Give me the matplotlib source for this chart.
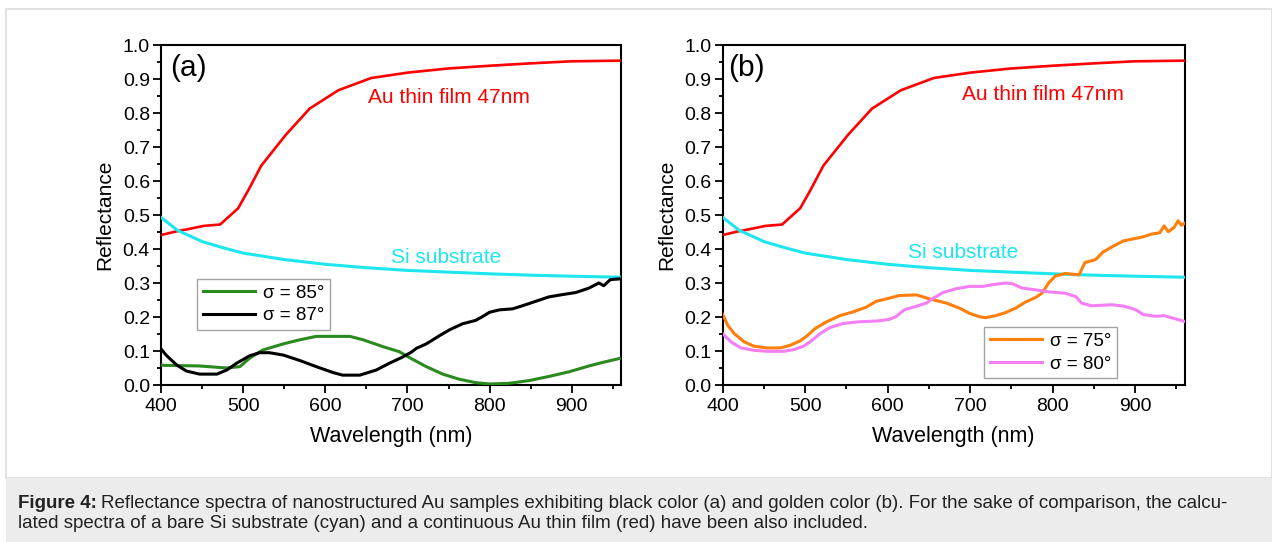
import matplotlib
matplotlib.use("Agg")
import matplotlib.pyplot as plt
from matplotlib.patches import Rectangle
from matplotlib.ticker import MultipleLocator, FormatStrFormatter

plt.rcParams['font.family'] = ['Liberation Sans', 'DejaVu Sans']

# ---------------- data ----------------
au_x = [400, 417, 432, 452, 472, 494, 507, 522, 552, 581, 616, 656, 701, 750, 800, 850, 899, 960]
au_y = [0.441, 0.451, 0.458, 0.468, 0.472, 0.520, 0.576, 0.645, 0.736, 0.813, 0.867, 0.903,
        0.919, 0.931, 0.939, 0.946, 0.952, 0.954]

si_x = [400, 420, 450, 475, 500, 550, 600, 650, 700, 750, 800, 850, 900, 960]
si_y = [0.493, 0.455, 0.422, 0.404, 0.388, 0.369, 0.355, 0.345, 0.337, 0.332, 0.327, 0.323,
        0.320, 0.317]

g85_x = [400, 447, 480, 496, 508, 524, 549, 569, 589, 630, 646, 670, 690, 706, 723, 743,
         763, 783, 800, 824, 848, 872, 897, 921, 937, 958]
g85_y = [0.058, 0.056, 0.050, 0.054, 0.079, 0.103, 0.121, 0.133, 0.143, 0.143, 0.133, 0.113,
         0.098, 0.076, 0.054, 0.032, 0.017, 0.007, 0.003, 0.005, 0.013, 0.025, 0.039, 0.056,
         0.066, 0.078]

k87_x = [400, 407, 419, 431, 447, 468, 480, 492, 508, 520, 532, 549, 569, 589, 609, 621,
         642, 662, 678, 694, 705, 711, 723, 739, 751, 767, 783, 792, 800, 812, 828, 840,
         856, 872, 889, 905, 921, 933, 939, 947, 958]
k87_y = [0.106, 0.086, 0.059, 0.041, 0.032, 0.032, 0.044, 0.064, 0.086, 0.095, 0.095, 0.088,
         0.072, 0.054, 0.037, 0.029, 0.029, 0.044, 0.064, 0.082, 0.097, 0.108, 0.121, 0.145,
         0.162, 0.180, 0.190, 0.202, 0.214, 0.221, 0.224, 0.233, 0.246, 0.259, 0.266, 0.272,
         0.285, 0.300, 0.292, 0.310, 0.312]

o75_x = [400, 406, 414, 426, 438, 454, 470, 482, 494, 502, 512, 526, 542, 558, 574, 586,
         598, 614, 635, 651, 671, 687, 699, 711, 719, 731, 743, 755, 767, 779, 787, 795,
         803, 815, 832, 839, 852, 861, 874, 886, 900, 910, 920, 930, 935, 940, 947, 952,
         956, 960]
o75_y = [0.208, 0.176, 0.151, 0.127, 0.114, 0.109, 0.109, 0.117, 0.130, 0.144, 0.166, 0.186,
         0.204, 0.215, 0.229, 0.246, 0.253, 0.263, 0.265, 0.253, 0.241, 0.226, 0.211, 0.201,
         0.198, 0.204, 0.213, 0.226, 0.244, 0.257, 0.270, 0.300, 0.320, 0.328, 0.324, 0.360,
         0.369, 0.391, 0.409, 0.424, 0.431, 0.436, 0.444, 0.448, 0.468, 0.451, 0.463, 0.483,
         0.470, 0.476]

p80_x = [400, 410, 422, 438, 454, 474, 486, 498, 506, 518, 530, 546, 566, 586, 602, 610,
         620, 634, 647, 655, 667, 683, 699, 715, 727, 743, 751, 763, 779, 795, 815, 828,
         835, 847, 872, 886, 900, 910, 925, 935, 945, 960]
p80_y = [0.151, 0.127, 0.109, 0.102, 0.099, 0.099, 0.104, 0.114, 0.127, 0.151, 0.169, 0.181,
         0.186, 0.188, 0.193, 0.201, 0.221, 0.231, 0.241, 0.255, 0.272, 0.283, 0.290, 0.290,
         0.295, 0.300, 0.298, 0.285, 0.280, 0.274, 0.270, 0.260, 0.241, 0.233, 0.236, 0.232,
         0.222, 0.207, 0.202, 0.204, 0.197, 0.187]

caption_bold = "Figure 4:"
caption_line1 = ("Reflectance spectra of nanostructured Au samples exhibiting black color (a) "
                 "and golden color (b). For the sake of comparison, the calcu-")
caption_line2 = ("lated spectra of a bare Si substrate (cyan) and a continuous Au thin film "
                 "(red) have been also included.")

# ---------------- figure ----------------
W, H = 1272, 542
fig = plt.figure(figsize=(W / 100, H / 100), dpi=100)
fig.patch.set_facecolor('white')

def px(x0, y0, w, h):
    return [x0 / W, 1 - (y0 + h) / H, w / W, h / H]

# outer border and caption box
fig.patches.append(Rectangle((6 / W, 1 - 478 / H), (W - 6) / W, (478 - 9) / H,
                             transform=fig.transFigure, facecolor='white',
                             edgecolor='#dcdcdc', linewidth=1.2, zorder=-2))
fig.patches.append(Rectangle((6 / W, 0), (W - 6) / W, (H - 478) / H,
                             transform=fig.transFigure, facecolor='#ececec',
                             edgecolor='none', zorder=-2))

RED = '#ff0000'
CYAN = '#1ee6ee'
GREEN = '#2a8a1e'
BLACK = '#000000'
ORANGE = '#ff7f0a'
PINK = '#f47ff4'

ax_a = fig.add_axes(px(161, 45, 460, 340))
ax_b = fig.add_axes(px(722.7, 45, 462, 340))

for ax in (ax_a, ax_b):
    ax.set_zorder(2)
    ax.set_xlim(400, 960)
    ax.set_ylim(0, 1.0)
    ax.xaxis.set_major_locator(MultipleLocator(100))
    ax.xaxis.set_minor_locator(MultipleLocator(50))
    ax.yaxis.set_major_locator(MultipleLocator(0.1))
    ax.yaxis.set_minor_locator(MultipleLocator(0.05))
    ax.yaxis.set_major_formatter(FormatStrFormatter('%.1f'))
    ax.tick_params(which='both', direction='out', top=False, right=False,
                   width=1.3, labelsize=14, colors='black')
    ax.tick_params(which='major', length=5.5)
    ax.tick_params(which='minor', length=3)
    ax.tick_params(axis='x', pad=4)
    ax.tick_params(axis='y', pad=2.5)
    for s in ax.spines.values():
        s.set_linewidth(1.5)
    ax.set_xlabel('Wavelength (nm)', fontsize=15.5, labelpad=8)
    ax.set_ylabel('Reflectance', fontsize=15, labelpad=6)
    ax.plot(au_x, au_y, color=RED, lw=1.9, zorder=3)
    ax.plot(si_x, si_y, color=CYAN, lw=2.2, zorder=3)

# panel a
ax_a.plot(g85_x, g85_y, color=GREEN, lw=2.2, label='σ = 85°', zorder=4)
ax_a.plot(k87_x, k87_y, color=BLACK, lw=2.2, label='σ = 87°', zorder=4)
ax_a.text(0.02, 0.975, '(a)', transform=ax_a.transAxes, fontsize=21.5, va='top', ha='left')
ax_a.text(750, 0.847, 'Au thin film 47nm', color=RED, fontsize=15, ha='center', va='center')
ax_a.text(747, 0.376, 'Si substrate', color=CYAN, fontsize=15, ha='center', va='center')
leg_a = ax_a.legend(loc='upper left', bbox_to_anchor=(0.078, 0.312), fontsize=13.5,
                    frameon=True, fancybox=False, edgecolor='#8c8c8c', handlelength=2.8,
                    borderaxespad=0, borderpad=0.3, labelspacing=0.3, handletextpad=0.4)
leg_a.get_frame().set_linewidth(1.0)

# panel b
ax_b.plot(o75_x, o75_y, color=ORANGE, lw=2.2, label='σ = 75°', zorder=4)
ax_b.plot(p80_x, p80_y, color=PINK, lw=2.2, label='σ = 80°', zorder=4)
ax_b.text(0.012, 0.975, '(b)', transform=ax_b.transAxes, fontsize=21.5, va='top', ha='left')
ax_b.text(788, 0.853, 'Au thin film 47nm', color=RED, fontsize=15, ha='center', va='center')
ax_b.text(692, 0.391, 'Si substrate', color=CYAN, fontsize=15, ha='center', va='center')
leg_b = ax_b.legend(loc='lower right', bbox_to_anchor=(0.853, 0.02), fontsize=13.5,
                    frameon=True, fancybox=False, edgecolor='#8c8c8c', handlelength=2.8,
                    borderaxespad=0, borderpad=0.3, labelspacing=0.3, handletextpad=0.4)
leg_b.get_frame().set_linewidth(1.0)

# caption
cap_fs = 13.5
tb = fig.text(18 / W, 1 - 503 / H, caption_bold, fontsize=cap_fs, fontweight='bold',
              va='center', ha='left', color='#222222')
fig.canvas.draw()
bb = tb.get_window_extent()
fig.text((bb.x1 + 4) / W, 1 - 503 / H, caption_line1, fontsize=cap_fs,
         va='center', ha='left', color='#222222')
fig.text(18 / W, 1 - 524 / H, caption_line2, fontsize=cap_fs,
         va='center', ha='left', color='#222222')

fig.savefig('out.png', dpi=100)
